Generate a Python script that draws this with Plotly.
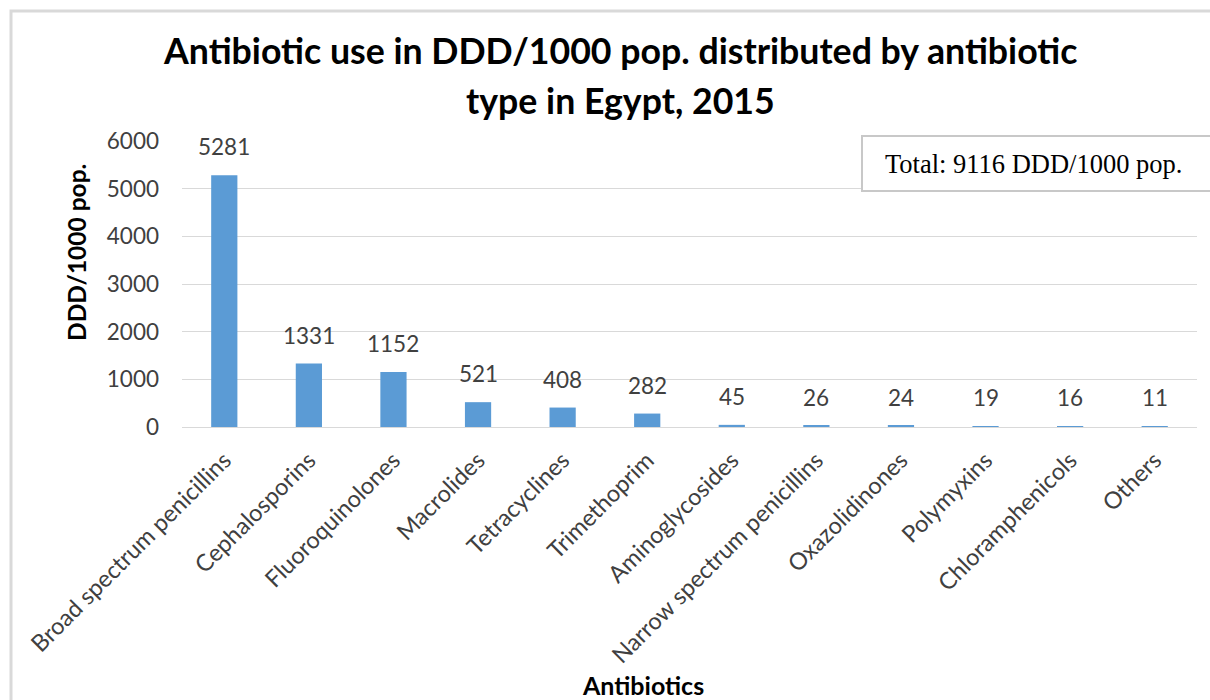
import plotly.graph_objects as go

# Antibiotic consumption by class (DDD per 1000 population), Egypt 2015
categories = [
    "Broad spectrum penicillins", "Cephalosporins", "Fluoroquinolones",
    "Macrolides", "Tetracyclines", "Trimethoprim", "Aminoglycosides",
    "Narrow spectrum penicillins", "Oxazolidinones", "Polymyxins",
    "Chloramphenicols", "Others",
]
values = [5281, 1331, 1152, 521, 408, 282, 45, 26, 24, 19, 16, 11]
y_ticks = [0, 1000, 2000, 3000, 4000, 5000, 6000]
total_label = "Total: 9116 DDD/1000 pop."
title_lines = [
    "Antibiotic use in DDD/1000 pop. distributed by antibiotic",
    "type in Egypt, 2015",
]

W, H = 1210, 700
L, R, T, B = 182, 13, 141, 273
pw, ph = W - L - R, H - T - B


def px_x(p):
    return (p - L) / pw


def px_y(p):
    return (H - B - p) / ph


FONT = "Lato"
BAR = "#5B9BD5"
LABEL_GREY = "#404040"

fig = go.Figure(
    go.Bar(
        x=categories,
        y=values,
        marker=dict(color=BAR, line=dict(width=0)),
        hoverinfo="x+y",
    )
)

# value labels above each bar
annotations = [
    dict(x=c, y=v, xref="x", yref="y", text=str(v), showarrow=False,
         yanchor="bottom", yshift=13,
         font=dict(family=FONT, size=22.5, color=LABEL_GREY))
    for c, v in zip(categories, values)
]

# two-line chart title
for line, ypix in zip(title_lines, [50, 100]):
    annotations.append(dict(
        x=px_x(620), y=px_y(ypix), xref="paper", yref="paper",
        xanchor="center", yanchor="middle", text=f"<b>{line}</b>",
        showarrow=False, font=dict(family=FONT, size=35.7, color="#000000"),
    ))

# axis titles
annotations.append(dict(
    x=px_x(643), y=px_y(685), xref="paper", yref="paper",
    text="<b>Antibiotics</b>", showarrow=False,
    xanchor="center", yanchor="middle",
    font=dict(family=FONT, size=25, color="#000000"),
))
annotations.append(dict(
    x=px_x(76), y=px_y(253), xref="paper", yref="paper",
    text="<b>DDD/1000 pop.</b>", showarrow=False, textangle=-90,
    xanchor="center", yanchor="middle",
    font=dict(family=FONT, size=24.5, color="#000000"),
))

# total box text
annotations.append(dict(
    x=px_x(1033), y=px_y(164), xref="paper", yref="paper",
    text=total_label, showarrow=False, xanchor="center", yanchor="middle",
    font=dict(family="Liberation Serif", size=26.5, color="#000000"),
))

shapes = [
    # outer chart frame
    dict(type="rect", xref="paper", yref="paper",
         x0=px_x(11), x1=px_x(1230), y0=px_y(730), y1=px_y(11),
         line=dict(color="#d9d9d9", width=3), fillcolor="rgba(0,0,0,0)",
         layer="below"),
    # total box
    dict(type="rect", xref="paper", yref="paper",
         x0=px_x(862), x1=px_x(1230), y0=px_y(191), y1=px_y(136),
         line=dict(color="#c8c8c8", width=2), fillcolor="#ffffff",
         layer="above"),
]

fig.update_layout(
    width=W, height=H,
    margin=dict(l=L, r=R, t=T, b=B, autoexpand=False),
    paper_bgcolor="#ffffff", plot_bgcolor="#ffffff",
    bargap=0.69,
    showlegend=False,
    annotations=annotations,
    shapes=shapes,
    font=dict(family=FONT, color=LABEL_GREY),
)
fig.update_xaxes(
    tickangle=-45,
    tickfont=dict(family=FONT, size=23.5, color=LABEL_GREY),
    showgrid=False, showline=False, zeroline=False,
    ticks="", ticklabelstandoff=14,
)
fig.update_yaxes(
    range=[0, 6000], tickvals=y_ticks,
    tickfont=dict(family=FONT, size=22.5, color=LABEL_GREY),
    showgrid=True, gridcolor="#d9d9d9", gridwidth=1,
    zeroline=True, zerolinecolor="#d9d9d9", zerolinewidth=1,
    showline=False, ticks="", ticklabelstandoff=22,
)

fig.write_html("out.html")
